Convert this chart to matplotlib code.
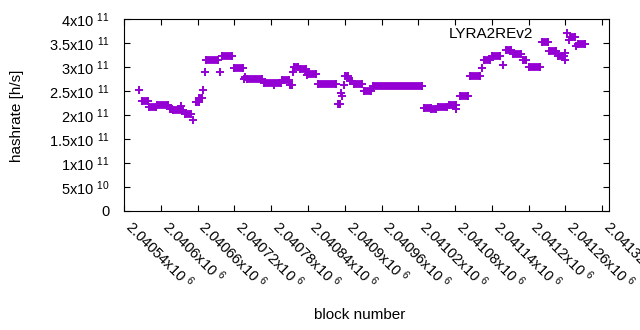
import numpy as np
import matplotlib
matplotlib.use("Agg")
from matplotlib import pyplot as plt
from matplotlib.ticker import FuncFormatter, MultipleLocator

plt.rcParams['font.family'] = ['Liberation Sans', 'DejaVu Sans']
plt.rcParams['mathtext.fontset'] = 'custom'
plt.rcParams['mathtext.rm'] = 'Liberation Sans'
plt.rcParams['mathtext.it'] = 'Liberation Sans'

COLOR = '#9400d3'
SERIES = 'LYRA2REv2'
BASE = 2040540

# runs of consecutive blocks sharing (nearly) the same hashrate, block offsets from BASE
run_start = [29, 41, 54, 75, 80, 99, 117, 123, 134, 160, 179, 200, 228, 258, 270, 277,
             287, 300, 316, 349, 360, 368, 375, 391, 406, 489, 501, 512, 530, 548, 564,
             587, 600, 623, 634, 651, 660, 681, 693, 708, 727, 740]
run_end = [39, 52, 72, 79, 96, 109, 122, 127, 153, 176, 194, 225, 256, 269, 274, 284,
           297, 313, 346, 352, 365, 372, 388, 403, 486, 500, 509, 527, 541, 561, 580,
           597, 613, 631, 647, 655, 678, 691, 704, 718, 735, 752]
run_rate = [2.285e11, 2.170e11, 2.222e11, 2.128e11, 2.107e11, 2.034e11, 2.264e11, 2.358e11,
            3.161e11, 3.234e11, 2.994e11, 2.764e11, 2.681e11, 2.733e11, 2.639e11, 3.015e11,
            2.963e11, 2.869e11, 2.660e11, 2.232e11, 2.827e11, 2.723e11, 2.660e11, 2.504e11,
            2.608e11, 2.159e11, 2.128e11, 2.180e11, 2.222e11, 2.399e11, 2.817e11, 3.150e11,
            3.234e11, 3.359e11, 3.276e11, 3.150e11, 3.004e11, 3.526e11, 3.338e11, 3.224e11,
            3.630e11, 3.484e11]

# isolated blocks, offsets from BASE
single_block = [24, 93, 112, 129, 132, 157, 195, 197, 245, 275, 298, 354, 356, 358,
                542, 584, 618, 719, 720, 725, 737]
single_rate = [2.525e11, 2.191e11, 1.899e11, 2.525e11, 2.900e11, 2.900e11, 2.754e11,
               2.796e11, 2.629e11, 2.900e11, 2.838e11, 2.462e11, 2.399e11, 2.629e11,
               2.128e11, 2.984e11, 3.046e11, 3.150e11, 3.297e11, 3.568e11, 3.443e11]

X_MIN, X_MAX, X_STEP = BASE, BASE + 791, 60


def sci(v, pos=None):
    if v == 0:
        return '0'
    e = int(np.floor(np.log10(abs(v))))
    m = v / 10 ** e
    return '%sx10 $^{%d}$' % (('%.5f' % m).rstrip('0').rstrip('.'), e)


fig = plt.figure(figsize=(6.4, 3.3), dpi=100)
ax = fig.add_axes([124 / 640, 1 - 211 / 330, 485 / 640, (211 - 19.3) / 330])

mk = dict(marker='+', ms=5.8, mew=1.4, color=COLOR, linestyle='none')
for x0, x1, r in zip(run_start, run_end, run_rate):
    ax.plot([BASE + x0, BASE + x1], [r, r], color=COLOR, lw=5.6, solid_capstyle='butt')
    ax.plot([BASE + x0, BASE + x1], [r, r], **mk)
ax.plot([BASE + b for b in single_block], single_rate, label=SERIES, **mk)

ax.set_xlim(X_MIN, X_MAX)
ax.set_ylim(0, 4e11)
ax.xaxis.set_major_locator(MultipleLocator(X_STEP, offset=X_MIN % X_STEP))
ax.yaxis.set_major_locator(MultipleLocator(5e10))
ax.xaxis.set_major_formatter(FuncFormatter(sci))
ax.yaxis.set_major_formatter(FuncFormatter(sci))
ax.tick_params(direction='in', length=4, width=0.8, top=True, right=True,
               labelsize=10.5, colors='black')
ax.tick_params(axis='y', pad=10)
ax.tick_params(axis='x', pad=12)
for lbl in ax.get_xticklabels():
    lbl.set_rotation(-45)
    lbl.set_ha('left')
    lbl.set_va('baseline')
    lbl.set_rotation_mode('anchor')
for s in ax.spines.values():
    s.set_linewidth(0.8)

ax.legend(loc='upper right', bbox_to_anchor=(0.944, 0.96), markerfirst=False,
          frameon=False, fontsize=11, handlelength=2, handletextpad=1.2,
          borderpad=0, borderaxespad=0)

fig.text(17 / 640, 1 - 116 / 330, 'hashrate [h/s]', rotation=90, ha='center',
         va='center', fontsize=11)
fig.text(360 / 640, 1 - 315 / 330, 'block number', ha='center', va='center',
         fontsize=11)

fig.savefig('out.png', dpi=100)
